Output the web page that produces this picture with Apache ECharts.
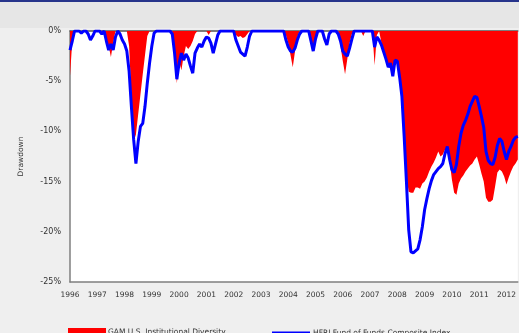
<!DOCTYPE html>
<html><head><meta charset="utf-8">
<script src="https://cdn.jsdelivr.net/npm/echarts@6/dist/echarts.min.js"></script>
<style>html,body{margin:0;padding:0;background:#efefef;overflow:hidden}#c{width:519px;height:333px}</style>
</head><body><div id="c"></div>
<script>
// Monthly series starting July 1996
const startYear = 1996, startMonth = 7;
const yearLabels = ['1996','1997','1998','1999','2000','2001','2002','2003','2004','2005','2006','2007','2008','2009','2010','2011','2012'];
const yTicks = [0, -5, -10, -15, -20, -25];

// GAM U.S. Institutional Diversity drawdown (%)
const gamDiversity = [
  -4.5,-1.0,0,0,0,0,0,0,0,0,0,0,
  0,0,0,0,-1.0,-1.5,-2.6,-1.2,0,0,0,0,
  0,0,-1.5,-6.5,-11.0,-10.3,-8.3,-6.3,-4.3,-2.4,-0.5,0,
  0,0,0,0,0,0,0,0,0,0,-2.5,-5.2,
  -3.0,-3.9,-2.5,-1.5,-1.8,-1.5,-1.0,-0.3,0,0,0,0,
  0,-0.4,0,0,0,0,0,0,0,0,0,0,
  0,-0.4,-0.6,-0.5,-0.7,-0.6,-0.3,0,0,0,0,0,
  0,0,0,0,0,0,0,0,0,0,0,-0.4,
  -1.2,-2.4,-3.6,-2.0,-0.6,0,0,0,0,0,-0.8,-1.8,
  -0.5,0,0,0,0,0,0,0,0,0,0,-1.5,
  -3.0,-4.3,-2.8,-1.2,-0.3,0,0,0,0,-0.5,0,0,
  0,0,-3.4,-0.4,0,-1.2,-2.0,-2.7,-3.5,-3.2,-4.4,-2.9,
  -3.0,-4.6,-6.5,-10.4,-14.5,-16.0,-16.1,-16.1,-15.6,-15.6,-15.7,-15.2,
  -15.0,-14.6,-14.0,-13.5,-13.1,-12.6,-12.0,-12.5,-12.3,-11.8,-11.6,-13.0,
  -14.8,-16.1,-16.3,-15.2,-14.7,-14.4,-14.0,-13.7,-13.4,-13.2,-12.8,-12.5,
  -13.3,-14.2,-15.0,-16.6,-17.0,-17.0,-16.8,-15.5,-14.1,-13.8,-14.0,-14.5,
  -15.3,-14.6,-14.0,-13.5,-13.2,-12.8
];

// HFRI Fund of Funds Composite Index drawdown (%)
const hfriFoF = [
  -1.9,-1.0,0,0,0,-0.2,0,0,-0.3,-0.9,-0.5,0,
  0,0,-0.3,0,-1.0,-1.9,-1.3,-1.9,-0.6,0,-0.3,-0.9,
  -1.3,-2.0,-4.0,-7.5,-10.8,-13.2,-11.0,-9.5,-9.2,-7.5,-5.2,-3.2,
  -1.5,-0.2,0,0,0,0,0,0,0,-0.3,-2.2,-4.8,
  -3.2,-2.2,-2.9,-2.3,-2.7,-3.5,-4.2,-2.2,-1.7,-1.3,-1.6,-1.0,
  -0.6,-0.7,-1.2,-2.2,-1.3,-0.4,0,0,0,0,0,0,
  0,-0.9,-1.5,-2.1,-2.3,-2.5,-1.6,-0.5,0,0,0,0,
  0,0,0,0,0,0,0,0,0,0,0,-0.9,
  -1.6,-2.0,-2.1,-1.7,-0.9,-0.3,0,0,0,0,-1.0,-2.0,
  -0.8,0,0,0,-0.8,-1.4,-0.3,0,0,0,-0.3,-1.0,
  -2.0,-2.3,-2.5,-1.7,-0.8,0,0,0,0,0,0,0,
  0,0,-1.6,-0.6,-0.9,-1.4,-2.1,-2.8,-3.6,-3.2,-4.5,-2.9,
  -3.0,-4.6,-6.5,-10.5,-15.0,-19.8,-22.0,-22.1,-21.9,-21.7,-20.8,-19.5,
  -17.8,-16.7,-15.7,-14.9,-14.3,-14.0,-13.7,-13.5,-13.2,-12.2,-11.5,-12.8,
  -13.8,-14.1,-13.3,-11.5,-10.2,-9.4,-8.9,-8.3,-7.5,-7.0,-6.5,-6.6,
  -7.5,-8.5,-9.6,-12.0,-12.9,-13.2,-13.3,-12.6,-11.4,-10.7,-11.0,-12.0,
  -12.8,-12.0,-11.5,-10.9,-10.6,-10.5
];

const categories = hfriFoF.map(function (_, i) {
  const m = startMonth - 1 + i;
  return (startYear + Math.floor(m / 12)) + '-' + String(m % 12 + 1).padStart(2, '0');
});

const FONT = 'DejaVu Sans';
const chart = echarts.init(document.getElementById('c'), null, {renderer: 'canvas'});
chart.setOption({
  animation: false,
  backgroundColor: '#efefef',
  graphic: [
    {type: 'rect', z: -10, shape: {x: 0, y: 0, width: 519, height: 2}, style: {fill: '#27348b'}},
    {type: 'rect', z: -10, shape: {x: 0, y: 2, width: 519, height: 26}, style: {fill: '#e6e6e6'}}
  ],
  grid: {left: 70, top: 31, width: 448.2, height: 251, show: true, backgroundColor: '#ffffff', borderWidth: 0},
  xAxis: [
    {
      type: 'category', data: categories, boundaryGap: false, position: 'bottom',
      axisLine: {show: true, onZero: false, lineStyle: {color: '#7f7f7f', width: 1.5}},
      axisTick: {show: false},
      axisLabel: {
        interval: function (index) { return index % 12 === 0; },
        formatter: function (v, index) { return yearLabels[Math.floor(index / 12)]; },
        fontFamily: FONT, fontSize: 7.5, color: '#333', margin: 9
      },
      splitLine: {show: false}
    },
    {
      type: 'category', data: categories, boundaryGap: false, position: 'top',
      axisLine: {show: true, onZero: false, lineStyle: {color: '#555', width: 1.5}},
      axisTick: {show: false}, axisLabel: {show: false}, splitLine: {show: false}
    }
  ],
  yAxis: {
    type: 'value', min: -25, max: 0, interval: 5,
    name: 'Drawdown', nameLocation: 'middle', nameGap: 45, nameRotate: 90,
    nameTextStyle: {fontFamily: FONT, fontSize: 7.5, color: '#333'},
    axisLine: {show: true, onZero: false, lineStyle: {color: '#7f7f7f', width: 1.5}},
    axisTick: {show: false},
    splitLine: {show: false},
    axisLabel: {
      formatter: function (v) { return yTicks.indexOf(v) >= 0 ? v + '%' : ''; },
      fontFamily: FONT, fontSize: 8, color: '#333', margin: 9
    }
  },
  legend: [
    {
      data: [{name: 'GAM U.S. Institutional Diversity', icon: 'rect'}],
      left: 68, top: 328, padding: 0, itemWidth: 38, itemHeight: 9,
      textStyle: {fontFamily: FONT, fontSize: 7.5, color: '#333', padding: [0, 0, 0, -3]}
    },
    {
      data: [{name: 'HFRI Fund of Funds Composite Index', icon: 'rect'}],
      left: 272, top: 329, padding: 0, itemWidth: 38, itemHeight: 3,
      textStyle: {fontFamily: FONT, fontSize: 7.5, color: '#333', padding: [0, 0, 0, -2]}
    }
  ],
  series: [
    {
      name: 'GAM U.S. Institutional Diversity', type: 'line', data: gamDiversity,
      symbol: 'none', lineStyle: {width: 0, color: '#ff0000'},
      itemStyle: {color: '#ff0000'},
      areaStyle: {color: '#ff0000', opacity: 1}, z: 2
    },
    {
      name: 'HFRI Fund of Funds Composite Index', type: 'line', data: hfriFoF,
      symbol: 'none', lineStyle: {width: 3, color: '#0000ff'},
      itemStyle: {color: '#0000ff'}, z: 3
    }
  ]
});
</script></body></html>
